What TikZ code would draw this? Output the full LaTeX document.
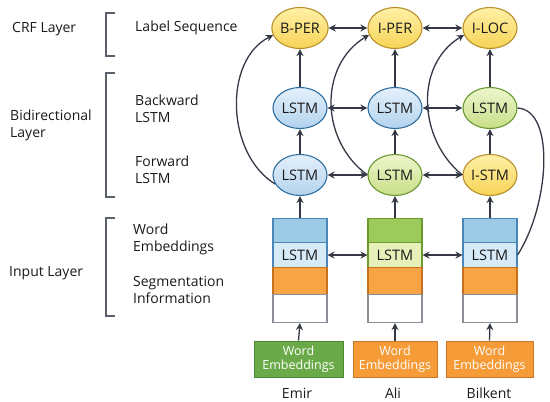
\documentclass[tikz,border=0pt]{standalone}
\usepackage{fontspec}
\setmainfont{Open Sans}
\usetikzlibrary{arrows.meta,shapes.geometric}
\definecolor{ink}{HTML}{1A1A1A}
\definecolor{arrc}{HTML}{333844}
\definecolor{brkc}{HTML}{5A5F6B}
\definecolor{yelT}{HTML}{FFF0A6}
\definecolor{yelB}{HTML}{F7D457}
\definecolor{yelD}{HTML}{B8902A}
\definecolor{bluT}{HTML}{E4F0FA}
\definecolor{bluB}{HTML}{B3D3EE}
\definecolor{bluD}{HTML}{2F6FA0}
\definecolor{grnT}{HTML}{EDF5CC}
\definecolor{grnB}{HTML}{C8DF88}
\definecolor{grnD}{HTML}{6A9830}
\definecolor{stBlue}{HTML}{9DCBE6}
\definecolor{stBlueL}{HTML}{D6EAF7}
\definecolor{stBlueD}{HTML}{4A86B8}
\definecolor{stGreen}{HTML}{9CCB5C}
\definecolor{stGreenL}{HTML}{E6F0B8}
\definecolor{stGreenD}{HTML}{6A9A30}
\definecolor{stOr}{HTML}{F6A444}
\definecolor{stOrD}{HTML}{C8701E}
\definecolor{stGray}{HTML}{8A8F99}
\definecolor{weG}{HTML}{6AAA48}
\definecolor{weGD}{HTML}{4E8A34}
\definecolor{weO}{HTML}{F59B38}
\definecolor{weOD}{HTML}{C87628}
\begin{document}
\begin{tikzpicture}[x=1pt,y=-1pt,
  lbl/.style={font=\fontsize{14}{17}\selectfont, text=ink, inner sep=0pt, align=left, anchor=west},
  ell/.style={ellipse, minimum width=54pt, minimum height=41pt, inner sep=0pt, line width=1.1pt,
    font=\fontsize{14.5}{16}\selectfont, text=ink},
  yel/.style={ell, draw=yelD, top color=yelT, bottom color=yelB},
  blu/.style={ell, draw=bluD, top color=bluT, bottom color=bluB},
  grn/.style={ell, draw=grnD, top color=grnT, bottom color=grnB},
  seg/.style={rectangle, minimum width=54pt, inner sep=0pt, anchor=north, line width=1.1pt,
    font=\fontsize{14.5}{16}\selectfont, text=ink},
  webox/.style={rectangle, minimum height=36pt, inner sep=0pt, line width=1pt, align=center,
    font=\fontsize{12.5}{13.5}\selectfont, text=white},
  word/.style={font=\fontsize{14}{16}\selectfont, text=ink, inner sep=0pt},
  arr/.style={draw=arrc, line width=1.3pt, -{Stealth[length=7pt,width=7pt]}},
  darr/.style={draw=arrc, line width=1.3pt, {Stealth[length=7pt,width=7pt]}-{Stealth[length=7pt,width=7pt]}},
  curv/.style={draw=arrc, line width=1.3pt},
  brk/.style={draw=brkc, line width=1.3pt}]
\useasboundingbox (0,0) rectangle (550,402);

% left labels
\node[lbl] (crf) at (12,29) {CRF Layer};
\node[lbl] (labseq) at (135,28) {Label Sequence};
\node[lbl] (bidir) at (10,125.5) {Bidirectional\\Layer};
\node[lbl] (bwd) at (135,108.5) {Backward\\LSTM};
\node[lbl] (fwd) at (135,169.5) {Forward\\LSTM};
\node[lbl] (inl) at (9,273) {Input Layer};
\node[lbl] (wemb) at (133,239) {Word\\Embeddings};
\node[lbl] (segi) at (133,289.5) {Segmentation\\Information};

% brackets
\draw[brk] (115,13) -- (106,13) -- (106,56) -- (115,56);
\draw[brk] (115,73) -- (106,73) -- (106,197) -- (115,197);
\draw[brk] (115,218) -- (106,218) -- (106,316) -- (115,316);

% label row
\node[yel] (p1) at (300,28) {B-PER};
\node[yel] (p2) at (395,28) {I-PER};
\node[yel] (p3) at (490,28) {I-LOC};
% backward row
\node[blu] (k1) at (300,108) {LSTM};
\node[blu] (k2) at (395,108) {LSTM};
\node[grn] (k3) at (490,108) {LSTM};
% forward row
\node[blu] (f1) at (300,175) {LSTM};
\node[grn] (f2) at (395,175) {LSTM};
\node[yel] (f3) at (490,175) {I-STM};

% stacks
\node[seg, minimum height=24pt, fill=stBlue, draw=stBlueD] (s1t) at (300,218) {};
\node[seg, minimum height=25pt, fill=stBlueL, draw=stBlueD] (s1l) at (300,242) {LSTM};
\node[seg, minimum height=27pt, fill=stOr, draw=stOrD] (s1o) at (300,267) {};
\node[seg, minimum height=28pt, fill=white, draw=stGray] (s1w) at (300,294) {};

\node[seg, minimum height=24pt, fill=stGreen, draw=stGreenD] (s2t) at (395,218) {};
\node[seg, minimum height=25pt, fill=stGreenL, draw=stGreenD] (s2l) at (395,242) {LSTM};
\node[seg, minimum height=27pt, fill=stOr, draw=stOrD] (s2o) at (395,267) {};
\node[seg, minimum height=28pt, fill=white, draw=stGray] (s2w) at (395,294) {};

\node[seg, minimum height=24pt, fill=stBlue, draw=stBlueD] (s3t) at (490,218) {};
\node[seg, minimum height=25pt, fill=stBlueL, draw=stBlueD] (s3l) at (490,242) {LSTM};
\node[seg, minimum height=27pt, fill=stOr, draw=stOrD] (s3o) at (490,267) {};
\node[seg, minimum height=28pt, fill=white, draw=stGray] (s3w) at (490,294) {};

% word embedding boxes
\node[webox, minimum width=89pt, fill=weG, draw=weGD] (w1) at (298.5,359) {Word\\Embeddings};
\node[webox, minimum width=84pt, fill=weO, draw=weOD] (w2) at (395,359) {Word\\Embeddings};
\node[webox, minimum width=87pt, fill=weO, draw=weOD] (w3) at (489.5,359) {Word\\Embeddings};

% words
\node[word] (t1) at (297,393) {Emir};
\node[word] (t2) at (393,393) {Ali};
\node[word] (t3) at (489,393) {Bilkent};

% vertical arrows
\foreach \i in {1,2,3}{
  \draw[arr] (w\i.north) -- (s\i w.south);
  \draw[arr] (s\i t.north) -- (f\i.south);
  \draw[arr] (f\i.north) -- (k\i.south);
  \draw[arr] (k\i.north) -- (p\i.south);
}

% horizontal double arrows
\draw[darr] (p1.east) -- (p2.west);
\draw[darr] (p2.east) -- (p3.west);
\draw[darr] (k1.east) -- (k2.west);
\draw[darr] (k2.east) -- (k3.west);
\draw[darr] (f1.east) -- (f2.west);
\draw[darr] (f2.east) -- (f3.west);
\draw[darr] (s1l.east) -- (s2l.west);
\draw[darr] (s2l.east) -- (s3l.west);

% curved skip arrows
\draw[curv, -{Stealth[length=7pt,width=7pt]}] (f1.200) .. controls +(-49,-30) and +(-50,25) .. (p1.195);
\draw[curv, -{Stealth[length=7pt,width=7pt]}] (f2.west) .. controls +(-48,-35) and +(-50,30) .. (p2.195);
\draw[curv, -{Stealth[length=7pt,width=7pt]}] (f3.west) .. controls +(-44,-35) and +(-50,30) .. (p3.195);
\draw[curv] (k3.east) .. controls +(38,2) and +(32,-50) .. (s3l.east);
\end{tikzpicture}
\end{document}
